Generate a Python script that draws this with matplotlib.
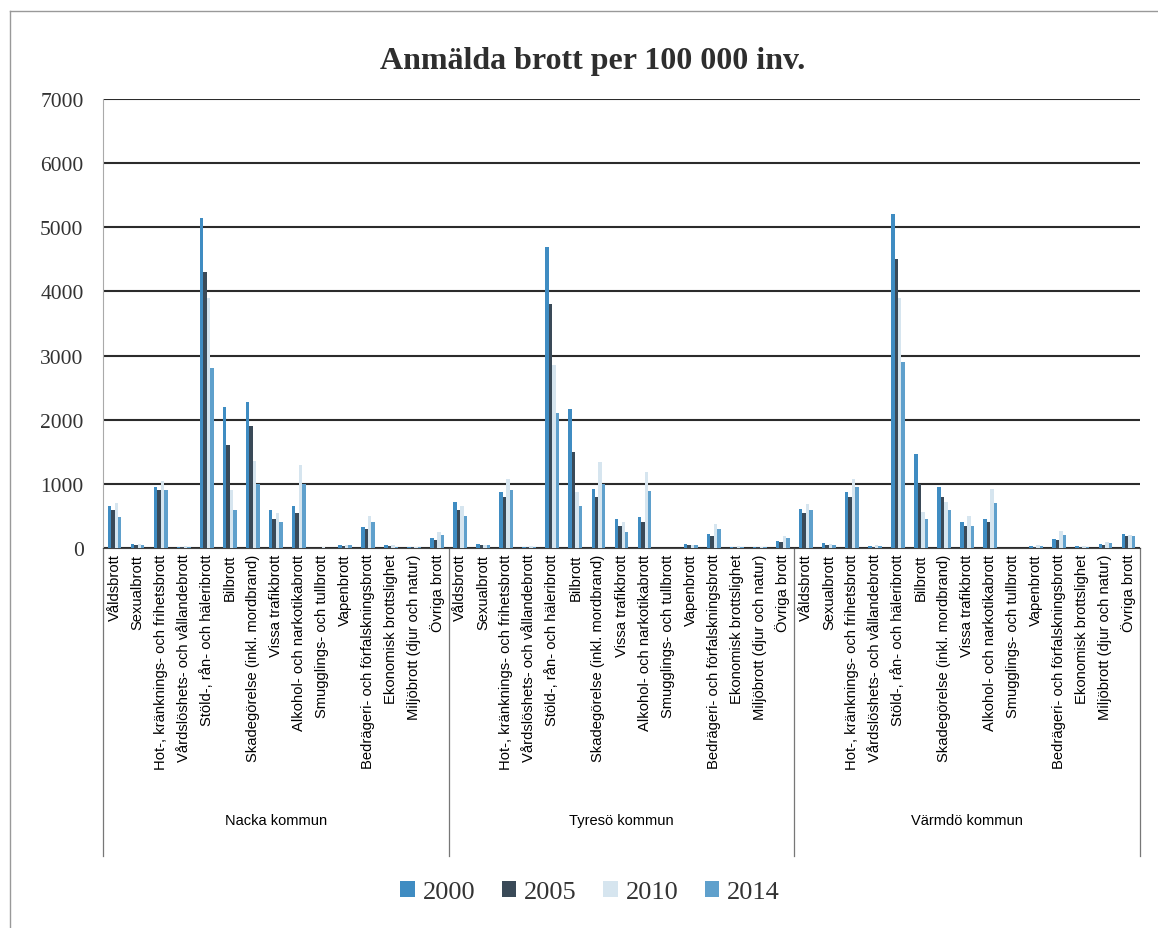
import numpy as np
import matplotlib.pyplot as plt
from matplotlib.lines import Line2D

# Data (per 100 000 inv.)
categories = [
    "Våldsbrott", "Sexualbrott", "Hot-, kränknings- och frihetsbrott",
    "Vårdslöshets- och vållandebrott", "Stöld-, rån- och häleribrott",
    "Bilbrott", "Skadegörelse (inkl. mordbrand)", "Vissa trafikbrott",
    "Alkohol- och narkotikabrott", "Smugglings- och tullbrott", "Vapenbrott",
    "Bedrägeri- och förfalskningsbrott", "Ekonomisk brottslighet",
    "Miljöbrott (djur och natur)", "Övriga brott",
]
groups = ["Nacka kommun", "Tyresö kommun", "Värmdö kommun"]
years = ["2000", "2005", "2010", "2014"]

nacka_2000 = [650, 60, 950, 20, 5150, 2200, 2270, 600, 650, 5, 40, 330, 40, 10, 150]
nacka_2005 = [600, 40, 900, 15, 4300, 1600, 1900, 450, 550, 5, 30, 300, 30, 10, 120]
nacka_2010 = [700, 70, 1050, 30, 3900, 900, 1350, 550, 1300, 10, 50, 500, 50, 15, 250]
nacka_2014 = [480, 50, 900, 20, 2800, 600, 1000, 400, 1000, 5, 40, 400, 20, 10, 200]

tyreso_2000 = [720, 60, 870, 20, 4700, 2170, 920, 450, 480, 5, 60, 220, 20, 10, 110]
tyreso_2005 = [600, 40, 800, 15, 3800, 1500, 800, 350, 400, 5, 40, 180, 15, 10, 90]
tyreso_2010 = [660, 50, 1070, 25, 2850, 870, 1340, 400, 1180, 5, 50, 370, 30, 15, 190]
tyreso_2014 = [500, 40, 900, 15, 2100, 650, 1000, 250, 890, 5, 40, 300, 20, 10, 150]

varmdo_2000 = [610, 80, 870, 30, 5200, 1470, 950, 400, 450, 5, 30, 140, 30, 60, 220]
varmdo_2005 = [550, 50, 800, 20, 4500, 1000, 800, 350, 400, 5, 20, 120, 20, 40, 180]
varmdo_2010 = [690, 60, 1080, 40, 3900, 560, 720, 500, 920, 5, 40, 260, 30, 100, 200]
varmdo_2014 = [600, 40, 950, 30, 2900, 450, 600, 350, 700, 5, 30, 200, 20, 80, 180]

series = {
    "2000": nacka_2000 + tyreso_2000 + varmdo_2000,
    "2005": nacka_2005 + tyreso_2005 + varmdo_2005,
    "2010": nacka_2010 + tyreso_2010 + varmdo_2010,
    "2014": nacka_2014 + tyreso_2014 + varmdo_2014,
}
colors = {"2000": "#3f8cc2", "2005": "#3a4a58", "2010": "#d6e5ef", "2014": "#5fa0cc"}

serif = "Liberation Serif"
sans = "Liberation Sans"

fig = plt.figure(figsize=(11.58, 9.29), dpi=100)
ax = fig.add_axes([103 / 1158, 1 - 549 / 929, (1140 - 103) / 1158, (549 - 100) / 929])

ncat = len(categories)
x = np.arange(ncat * len(groups))
w = 0.15
for i, yr in enumerate(years):
    ax.bar(x + (i - 1.5) * w, series[yr], width=w, color=colors[yr], label=yr, zorder=3)

ax.set_xlim(-0.5, len(x) - 0.5)
ax.set_ylim(0, 7000)
ax.set_yticks(np.arange(0, 7001, 1000))
ax.yaxis.grid(True, color="#2b2b2b", linewidth=1.5, zorder=0)
ax.tick_params(axis="y", length=0, pad=14, labelsize=15.5)
for lab in ax.get_yticklabels():
    lab.set_fontfamily(serif)
    lab.set_color("#333333")

ax.set_xticks(x)
ax.set_xticklabels(categories * len(groups), rotation=90, fontsize=10.6,
                   fontfamily=sans, va="top")
ax.tick_params(axis="x", length=0, pad=4)

for s in ["top", "right"]:
    ax.spines[s].set_visible(False)
ax.spines["left"].set_color("#aaaaaa")
ax.spines["bottom"].set_color("#444444")

# group labels and separators below the axis
for g, name in enumerate(groups):
    ax.text(g * ncat + (ncat - 1) / 2, -0.605, name, transform=ax.get_xaxis_transform(),
            ha="center", va="center", fontsize=10.5, fontfamily=sans)
for b in [-0.5, ncat - 0.5, 2 * ncat - 0.5, 3 * ncat - 0.5]:
    ax.add_line(Line2D([b, b], [0, -0.685], transform=ax.get_xaxis_transform(),
                       color="#777777", linewidth=0.9, clip_on=False))

fig.text(593 / 1158, 1 - 62 / 929, "Anmälda brott per 100 000 inv.", ha="center",
         va="center", fontsize=23, fontweight="bold", fontfamily=serif, color="#2e2e2e")

leg = fig.legend(loc="center", bbox_to_anchor=(590 / 1158, 1 - 893 / 929), ncol=4,
                 frameon=False, handlelength=0.55, handleheight=0.55, columnspacing=1.0,
                 handletextpad=0.3, prop={"family": serif, "size": 19})
for t in leg.get_texts():
    t.set_color("#333333")

# scanned page frame
fig.add_artist(Line2D([10 / 1158, 10 / 1158], [0, 1 - 12 / 929], transform=fig.transFigure,
                      color="#999999", linewidth=1))
fig.add_artist(Line2D([10 / 1158, 1], [1 - 12 / 929, 1 - 12 / 929], transform=fig.transFigure,
                      color="#999999", linewidth=1))

fig.savefig("out.png", dpi=100)
